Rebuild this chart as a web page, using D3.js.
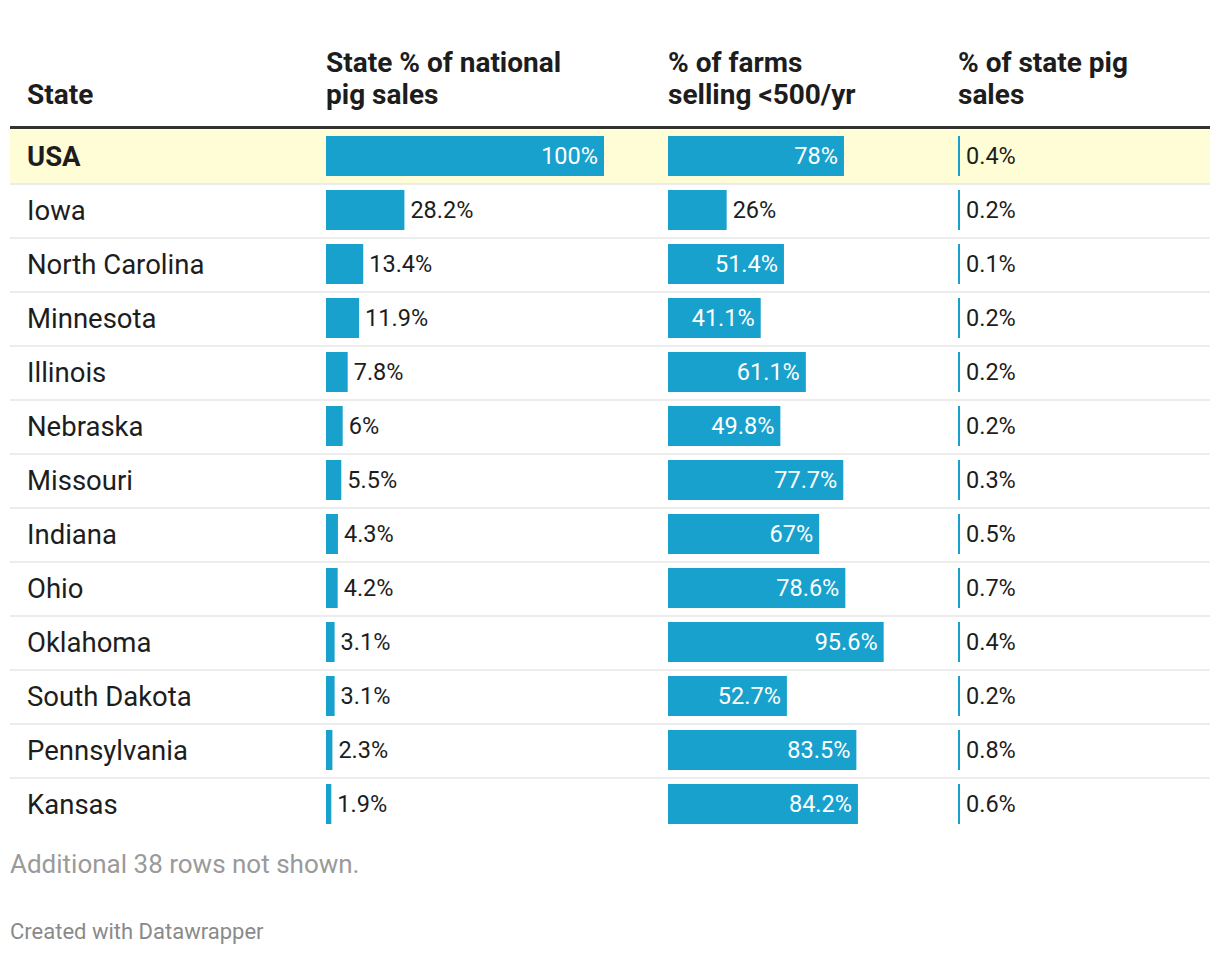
<!DOCTYPE html>
<html><head><meta charset="utf-8">
<script src="https://cdn.jsdelivr.net/npm/d3@7"></script>
<style>
html,body{margin:0;padding:0;background:#fff;}
svg{display:block;font-family:Roboto,"Noto Sans",sans-serif;}
</style></head>
<body>
<svg id="chart" width="1220" height="956"></svg>
<script>
const states = ["USA","Iowa","North Carolina","Minnesota","Illinois","Nebraska","Missouri","Indiana","Ohio","Oklahoma","South Dakota","Pennsylvania","Kansas"];
const nationalShare = [100,28.2,13.4,11.9,7.8,6,5.5,4.3,4.2,3.1,3.1,2.3,1.9];
const smallFarmShare = [78,26,51.4,41.1,61.1,49.8,77.7,67,78.6,95.6,52.7,83.5,84.2];
const stateSalesShare = [0.4,0.2,0.1,0.2,0.2,0.2,0.3,0.5,0.7,0.4,0.2,0.8,0.6];
const headers = [["State"],["State % of national","pig sales"],["% of farms","selling <500/yr"],["% of state pig","sales"]];
const notes = ["Additional 38 rows not shown.","Created with Datawrapper"];

const svg = d3.select("#chart");
const left = 10, right = 1210;
const rowTop = 130, rowH = 54;
const barColor = "#18a1cd";
const textColor = "#1d1d1d";

const colX = [27, 326, 668, 958];
const x1 = d3.scaleLinear().domain([0,100]).range([0,278]);
const x2 = d3.scaleLinear().domain([0,100]).range([0,225.6]);
const x3 = d3.scaleLinear().domain([0,100]).range([0,225.6]);
const y = d3.scaleBand().domain(states).range([rowTop, rowTop + rowH*states.length]).padding(0);

// header
headers.forEach((lines,i)=>{
  const t = svg.append("text").attr("x", colX[i]).attr("font-size",28).attr("font-weight",700).attr("fill",textColor);
  const n = lines.length;
  lines.forEach((l,j)=>{
    t.append("tspan").attr("x",colX[i]).attr("y", 104 - (n-1-j)*32).text(l);
  });
});
svg.append("rect").attr("x",left).attr("y",126).attr("width",right-left).attr("height",3).attr("fill","#333");

// rows
const rows = svg.selectAll("g.row").data(states.map((s,i)=>({s,i}))).join("g").attr("class","row")
  .attr("transform",d=>`translate(0,${y(d.s)})`);

rows.filter(d=>d.i===0).append("rect").attr("x",left).attr("y",0).attr("width",right-left).attr("height",rowH-1).attr("fill","#fffdd6");
rows.filter(d=>d.i<states.length-1).append("rect").attr("x",left).attr("y",rowH-1).attr("width",right-left).attr("height",2).attr("fill","#ececec");

rows.append("text").attr("x",colX[0]).attr("y",rowH/2+2).attr("dominant-baseline","middle")
  .attr("font-size",27.5).attr("font-weight",d=>d.i===0?700:400).attr("fill",textColor).text(d=>d.s);

function barCol(vals, scale, x0, minW){
  const g = rows.append("g");
  g.append("rect").attr("x",x0).attr("y",6).attr("height",40)
    .attr("width",d=>Math.max(minW, scale(vals[d.i]))).attr("fill",barColor);
  g.append("text").attr("y",rowH/2+1).attr("dominant-baseline","middle").attr("font-size",23.5)
    .text(d=>vals[d.i]+"%")
    .each(function(d){
      const w = Math.max(minW, scale(vals[d.i]));
      const tw = this.getComputedTextLength();
      const sel = d3.select(this);
      if (tw + 20 < w) {
        sel.attr("x", x0 + w - 6).attr("text-anchor","end").attr("fill","#fff");
      } else {
        sel.attr("x", x0 + w + 6).attr("text-anchor","start").attr("fill",textColor);
      }
    });
}
barCol(nationalShare, x1, colX[1], 2);
barCol(smallFarmShare, x2, colX[2], 2);
barCol(stateSalesShare, x3, colX[3], 2);

svg.append("text").attr("x",10).attr("y",873).attr("font-size",26).attr("fill","#9a9a9a").text(notes[0]);
svg.append("text").attr("x",10).attr("y",939).attr("font-size",22).attr("fill","#8a8a8a").text(notes[1]);
</script>
</body></html>
